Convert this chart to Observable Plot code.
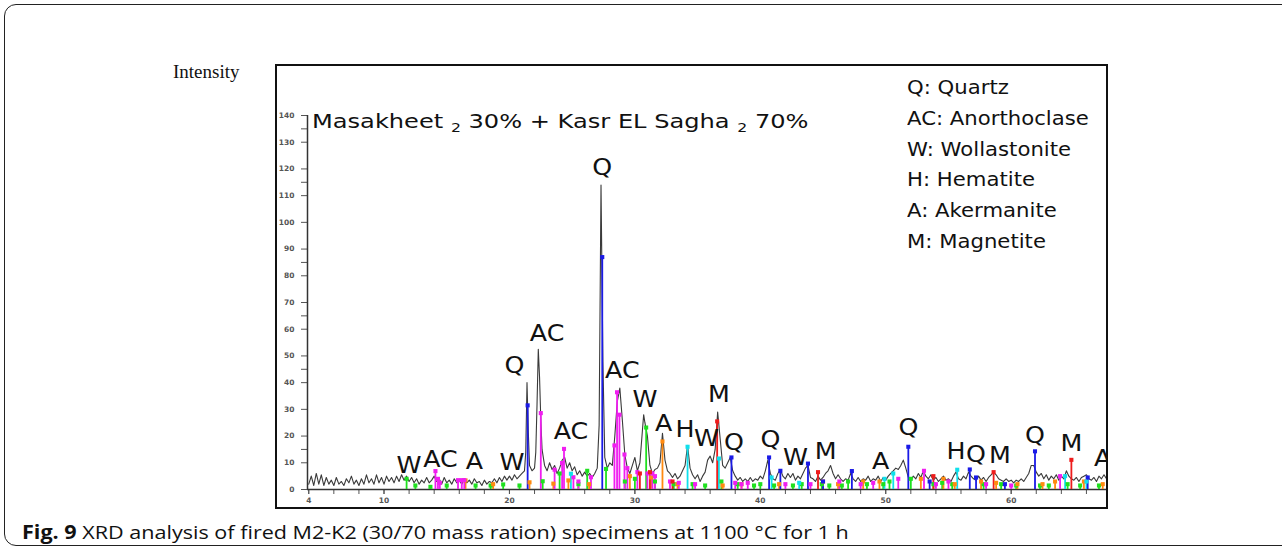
<!DOCTYPE html>
<html>
<head>
<meta charset="utf-8">
<script src="https://cdn.jsdelivr.net/npm/d3@7"></script>
<script src="https://cdn.jsdelivr.net/npm/@observablehq/plot@0.6"></script>
<style>
  html, body { margin: 0; padding: 0; background: #fff; }
  #page { position: relative; width: 1282px; height: 550px; overflow: hidden; background: #fff; }
  #outer { position: absolute; left: 4px; top: 4px; width: 1400px; height: 540px; border: 1.5px solid #222; border-radius: 12px; }
  #intensity { position: absolute; left: 173px; top: 61px; font-family: "Liberation Serif", serif; font-size: 19px; line-height: 22px; color: #111; }
  #frame { position: absolute; left: 275px; top: 64px; width: 829px; height: 441px; border: 2px solid #111; }
  #chart { position: absolute; left: 275px; top: 64px; }
  #title { position: absolute; left: 312px; top: 111px; font-family: "DejaVu Sans", sans-serif; font-size: 20px; line-height: 20px; color: #111; white-space: nowrap; transform-origin: 0 0; transform: scaleX(1.205); }
  #title sub { font-size: 13px; vertical-align: -4px; }
  #legend { position: absolute; left: 907px; top: 72px; font-family: "DejaVu Sans", sans-serif; font-size: 20px; line-height: 30.8px; color: #111; white-space: nowrap; transform-origin: 0 0; transform: scaleX(1.06); }
  #caption { position: absolute; left: 22px; top: 520px; font-family: "Open Sans", sans-serif; font-size: 19px; line-height: 24px; color: #111; white-space: nowrap; transform-origin: 0 0; transform: scaleX(1.135); }
  #caption b { font-weight: 700; }
</style>
</head>
<body>
<div id="page">
  <div id="outer"></div>
  <div id="intensity">Intensity</div>
  <div id="chart"></div>
  <div id="frame"></div>
  <div id="title">Masakheet <sub>2</sub> 30% + Kasr EL Sagha <sub>2</sub> 70%</div>
  <div id="legend"></div>
  <div id="caption"><b>Fig. 9</b> XRD analysis of fired M2-K2 (30/70 mass ration) specimens at 1100 °C for 1 h</div>
</div>
<script>
// ---- Data ----
// XRD scan: [2θ (deg), intensity]
const scan = [
  [4.0,2],[4.2,5],[4.4,1.5],[4.6,6],[4.8,2],[5.0,5.5],[5.2,1.5],[5.4,4.5],[5.6,2],[5.8,3.5],
  [6.0,1.5],[6.2,4.5],[6.4,2],[6.6,3],[6.8,1.5],[7.0,4],[7.2,2.5],[7.4,5],[7.6,2],[7.8,3.5],
  [8.0,1.5],[8.2,4],[8.4,2],[8.6,5.5],[8.8,2.5],[9.0,4],[9.2,2],[9.4,5.5],[9.6,2.5],[9.8,4.5],
  [10.0,2],[10.2,5],[10.4,3],[10.6,4.5],[10.8,2.5],[11.0,5],[11.2,3],[11.4,5.5],[11.6,3.5],[11.8,5],
  [12.0,3],[12.2,4.5],[12.4,2.5],[12.6,4],[12.8,2],[13.0,3.5],[13.2,2.5],[13.4,4.5],[13.6,2.5],[13.8,3.5],
  [14.0,5],[14.2,3],[14.4,4],[14.6,2],[14.8,4.5],[15.0,2.5],[15.2,3.5],[15.4,2],[15.6,4],[15.8,2.5],
  [16.0,3.5],[16.2,2],[16.4,4],[16.6,2.5],[16.8,3.5],[17.0,2],[17.2,4],[17.4,2.5],[17.6,3],[17.8,1.5],
  [18.0,3.5],[18.2,2],[18.4,3],[18.6,2.5],[18.8,4],[19.0,2.5],[19.2,4.5],[19.4,3],[19.6,5],[19.8,3.5],
  [20.0,5],[20.2,3.5],[20.4,5.5],[20.6,4],[20.8,5],[21.0,6],[21.2,7],[21.3,14],[21.4,40],[21.5,22],
  [21.6,9],[21.8,7],[22.0,8],[22.1,14],[22.2,32],[22.3,52.5],[22.4,42],[22.5,26],[22.6,15],[22.8,9],
  [23.0,7],[23.2,10],[23.4,7.5],[23.6,9],[23.8,6],[24.0,8],[24.2,11],[24.4,12],[24.6,8],[24.8,10],
  [25.0,7],[25.2,8.5],[25.4,5.5],[25.6,7],[25.8,5],[26.0,6.5],[26.2,5],[26.4,6],[26.6,4.5],[26.8,6],
  [27.0,8],[27.15,24],[27.3,114],[27.45,48],[27.6,12],[27.8,8],[28.0,10],[28.2,9],[28.4,20],[28.6,33],
  [28.8,38],[29.0,26],[29.2,13],[29.4,8],[29.6,6],[29.8,9],[30.0,12],[30.2,7],[30.4,10],[30.6,22],
  [30.7,28],[30.8,25],[31.0,20],[31.2,9],[31.4,6],[31.6,7.5],[31.8,8],[32.0,10],[32.2,21],[32.4,11],
  [32.6,7],[32.8,6],[33.0,4.5],[33.2,6],[33.4,4],[33.6,5],[33.8,7],[34.0,9],[34.2,16.5],[34.4,8],
  [34.6,5.5],[34.8,4],[35.0,5.5],[35.2,3],[35.4,5],[35.6,6.5],[35.8,11],[36.0,12.5],[36.2,10],[36.4,15],
  [36.6,29],[36.8,19],[37.0,9],[37.2,8],[37.4,10],[37.6,12],[37.8,7],[38.0,5],[38.2,3.5],[38.4,4.5],
  [38.6,3],[38.8,4],[39.0,3],[39.2,4.5],[39.4,3],[39.6,4],[39.8,3.5],[40.0,5],[40.2,4],[40.4,7],
  [40.6,11],[40.8,6],[41.0,4],[41.2,3.5],[41.4,6],[41.6,7.5],[41.8,5],[42.0,4],[42.2,6],[42.4,4.5],
  [42.6,6],[42.8,3.5],[43.0,5],[43.2,4],[43.4,6],[43.6,8],[43.8,9],[44.0,4.5],[44.2,4],[44.4,3],
  [44.6,5],[44.8,3.5],[45.0,4.5],[45.2,6],[45.4,7],[45.6,9],[45.8,6],[46.0,4],[46.2,5.5],[46.4,4],
  [46.6,3],[46.8,4],[47.0,3.5],[47.2,6],[47.4,4],[47.6,3],[47.8,4.5],[48.0,3],[48.2,4],[48.4,3.5],
  [48.6,5],[48.8,3],[49.0,4],[49.2,3.5],[49.4,5],[49.6,3],[49.8,4.5],[50.0,3.5],[50.2,5],[50.4,6],
  [50.6,7],[50.8,8],[51.0,7.5],[51.2,9],[51.4,11],[51.6,8],[51.8,4.5],[52.0,3.5],[52.2,5],[52.4,4],
  [52.6,6],[52.8,4.5],[53.0,7],[53.2,5],[53.4,4],[53.6,5.5],[53.8,3.5],[54.0,4.5],[54.2,3],[54.4,4],
  [54.6,5],[54.8,3.5],[55.0,4],[55.2,3],[55.4,5],[55.6,6.5],[55.8,4],[56.0,3.5],[56.2,5],[56.4,4],
  [56.6,6.5],[56.8,5],[57.0,4],[57.2,3.5],[57.4,5],[57.6,3.5],[57.8,4.5],[58.0,3],[58.2,4.5],[58.4,5.5],
  [58.6,6.5],[58.8,5.5],[59.0,4],[59.2,3.5],[59.4,3],[59.6,4],[59.8,3],[60.0,3.5],[60.2,2.5],[60.4,3.5],
  [60.6,3],[60.8,4],[61.0,3],[61.2,4.5],[61.4,6],[61.6,9],[61.8,9],[62.0,6.5],[62.2,5],[62.4,6],
  [62.6,4],[62.8,5.5],[63.0,3.5],[63.2,5],[63.4,4],[63.6,5.5],[63.8,3.5],[64.0,5],[64.2,4],[64.4,7],
  [64.6,5],[64.8,4],[65.0,3.5],[65.2,4.5],[65.4,3],[65.6,4.5],[65.8,5],[66.0,5.5],[66.2,4],[66.4,3.5],
  [66.6,4.5],[66.8,3],[67.0,5],[67.2,4],[67.4,5.5],[67.6,4]
];

// Reference sticks per phase: [2θ, height]
const quartzSticks = [[21.45,31.5],[27.4,87],[37.7,12],[40.7,12],[41.6,7],[43.8,9.7],[45.0,3],[47.3,6.9],[51.8,16],[53.5,3],[56.7,7.5],[57.2,4.5],[59.5,2],[61.9,14.3],[66.1,4.5]];
const anorthoclaseSticks = [[14.1,6.9],[14.3,4],[14.45,2.5],[15.9,3.5],[16.2,3.5],[16.4,3.5],[22.5,28.6],[23.6,7.4],[24.2,9.9],[24.35,15.2],[25.1,4.6],[25.5,3],[26.5,4.6],[28.37,16.5],[28.58,36.4],[28.77,28],[29.17,13.1],[29.4,8],[30.2,6.5],[31.0,6],[31.4,6],[31.6,5],[32.8,3],[33.5,2.5],[34.8,2],[38.0,2.5],[38.5,2],[39.0,2.5],[42.0,2],[44.0,2],[46.3,3],[48.0,2],[49.0,2.5],[51.0,4],[53.05,7],[54.0,2],[55.0,3],[58.0,2],[60.0,1.5],[63.9,5]];
const wollastoniteSticks = [[11.8,4],[12.5,1.5],[13.7,1],[15.0,1.5],[17.3,1.5],[18.5,1.5],[19.5,1.9],[20.8,1.5],[22.65,3.1],[24.0,6],[25.5,2],[26.2,7],[27.7,7.7],[29.2,3],[30.0,4],[30.9,23.2],[31.6,3],[33.1,2],[34.6,2],[35.6,1.5],[36.9,3],[38.2,2],[39.5,1.5],[40.0,2],[41.1,1.5],[42.6,1.5],[43.3,2],[44.9,2],[45.5,1.5],[46.5,1.5],[47.0,3],[48.5,2],[49.8,2],[50.3,3],[52.0,4],[53.8,2],[54.5,2.5],[55.3,2],[57.8,2],[59.2,2],[60.4,1.5],[62.3,1.5],[63.0,1.5],[64.5,2],[65.5,1.5],[67.0,1.5]];
const hematiteSticks = [[24.9,5.9],[34.2,16],[36.7,11.6],[40.9,4.5],[43.1,2.5],[49.9,4],[50.6,6],[55.7,7.4],[64.3,5],[66.0,3]];
const akermaniteSticks = [[16.5,3.4],[18.7,2],[21.6,2.7],[23.5,2.2],[24.7,3.4],[26.35,2],[29.6,5],[31.3,4.5],[32.2,18],[33.4,2],[37.0,1.5],[38.5,2],[41.5,2],[45.0,3],[46.2,2],[48.2,3],[49.5,3],[52.8,4],[54.6,4],[55.5,2],[57.6,3],[58.8,2.5],[60.5,2],[62.5,2],[63.5,3],[65.8,3],[67.3,2]];
const magnetiteSticks = [[30.4,6],[31.2,6.5],[33.0,3],[36.56,25.5],[44.6,6.5],[53.8,5],[58.6,6.5],[64.8,11.1]];

// Peak annotations: text, 2θ, intensity of label centre
const labelText   = ["W","AC","A","W","Q","AC","AC","Q","AC","W","A","H","W","M","Q","Q","W","M","A","Q","H","Q","M","Q","M","A"];
const labelAngle  = [12.0,14.5,17.2,20.2,20.4,23.0,24.9,27.4,29.0,30.8,32.3,34.0,35.7,36.7,37.9,40.8,42.8,45.2,49.6,51.8,55.6,57.2,59.1,61.9,64.8,67.3];
const labelHeight = [8.6,10.5,10,9.7,46,58,21,120,44,33,24,22,18.4,35,17,18,11.6,13.5,10,22.5,13.5,12.7,12,19.5,16.5,11];

// Legend entries
const legendLines = ["Q: Quartz","AC: Anorthoclase","W: Wollastonite","H: Hematite","A: Akermanite","M: Magnetite"];

// Axis ticks
const yMajorTicks = [0,10,20,30,40,50,60,70,80,90,100,110,120,130,140];
const yMinorTicks = [15,45,65,85,115,135];
const xLabelTicks = [4,10,20,30,40,50,60];
const xMinorTicks = [4,6,8,10,12,14,16,18,20,22,24,26,28,30,32,34,36,38,40,42,44,46,48,50,52,54,56,58,60,62,64,66];
const xDomain = [3.9, 67.6];
const yDomain = [0, 140];

// ---- Build ----
const phaseColors = {Q: "#1a1ae6", AC: "#f01ef0", W: "#1fe01f", H: "#10e0ec", A: "#ff8a10", M: "#ee1c1c"};
const phaseSets = [["W", wollastoniteSticks],["A", akermaniteSticks],["AC", anorthoclaseSticks],["H", hematiteSticks],["M", magnetiteSticks],["Q", quartzSticks]];
const sticks = phaseSets.flatMap(([p, arr]) => arr.map(([a, h]) => ({angle: a, height: h, color: phaseColors[p]})));
const points = scan.map(([a, i]) => ({angle: a, intensity: i}));
const labels = labelText.map((t, i) => ({text: t, angle: labelAngle[i], height: labelHeight[i]}));

document.getElementById("legend").innerHTML = legendLines.map(s => `<div>${s}</div>`).join("");

const chart = Plot.plot({
  width: 831,
  height: 443,
  marginLeft: 32,
  marginRight: 0,
  marginTop: 51,
  marginBottom: 18,
  x: {domain: xDomain},
  y: {domain: yDomain},
  color: {type: "identity"},
  style: {fontFamily: "DejaVu Sans, sans-serif", background: "transparent", overflow: "visible", color: "#333"},
  marks: [
    Plot.axisY({ticks: yMajorTicks, tickSize: 6, tickPadding: 7, fontSize: 7.5, fontWeight: "bold", label: null, fill: "#555", stroke: "#555"}),
    Plot.axisY({ticks: yMinorTicks, tickSize: 6, text: null, label: null, stroke: "#555"}),
    Plot.axisX({ticks: xMinorTicks, tickSize: 5, text: null, label: null, stroke: "#555"}),
    Plot.axisX({ticks: xLabelTicks, tickSize: 5, tickPadding: 3, fontSize: 7.5, fontWeight: "bold", label: null, fill: "#555", stroke: "#555"}),
    Plot.ruleY([yDomain[0]], {stroke: "#333", strokeWidth: 1.5}),
    Plot.ruleX([xDomain[0]], {y1: yDomain[0], y2: yDomain[1], stroke: "#333", strokeWidth: 1.5}),
    Plot.line(points, {x: "angle", y: "intensity", stroke: "#3a3a3a", strokeWidth: 1.1}),
    Plot.ruleX(sticks, {x: "angle", y1: 0, y2: "height", stroke: "color", strokeWidth: 1.8}),
    Plot.dot(sticks, {x: "angle", y: "height", symbol: "square", r: 2.3, fill: "color", stroke: "none"}),
    Plot.text(labels, {x: "angle", y: "height", text: "text", fontSize: 23, dy: 6, clip: true, fill: "#111", fontFamily: "DejaVu Sans, sans-serif"})
  ]
});
document.getElementById("chart").appendChild(chart);

// stretch peak labels horizontally like the reference lettering
chart.querySelectorAll('g[aria-label="text"] text').forEach(t => {
  const x = +t.getAttribute("x") || 0, y = +t.getAttribute("y") || 0;
  const tr = t.getAttribute("transform") || "";
  t.removeAttribute("x"); t.removeAttribute("y");
  t.setAttribute("transform", `${tr} translate(${x},${y}) scale(1.1,1)`);
});
</script>
</body>
</html>
